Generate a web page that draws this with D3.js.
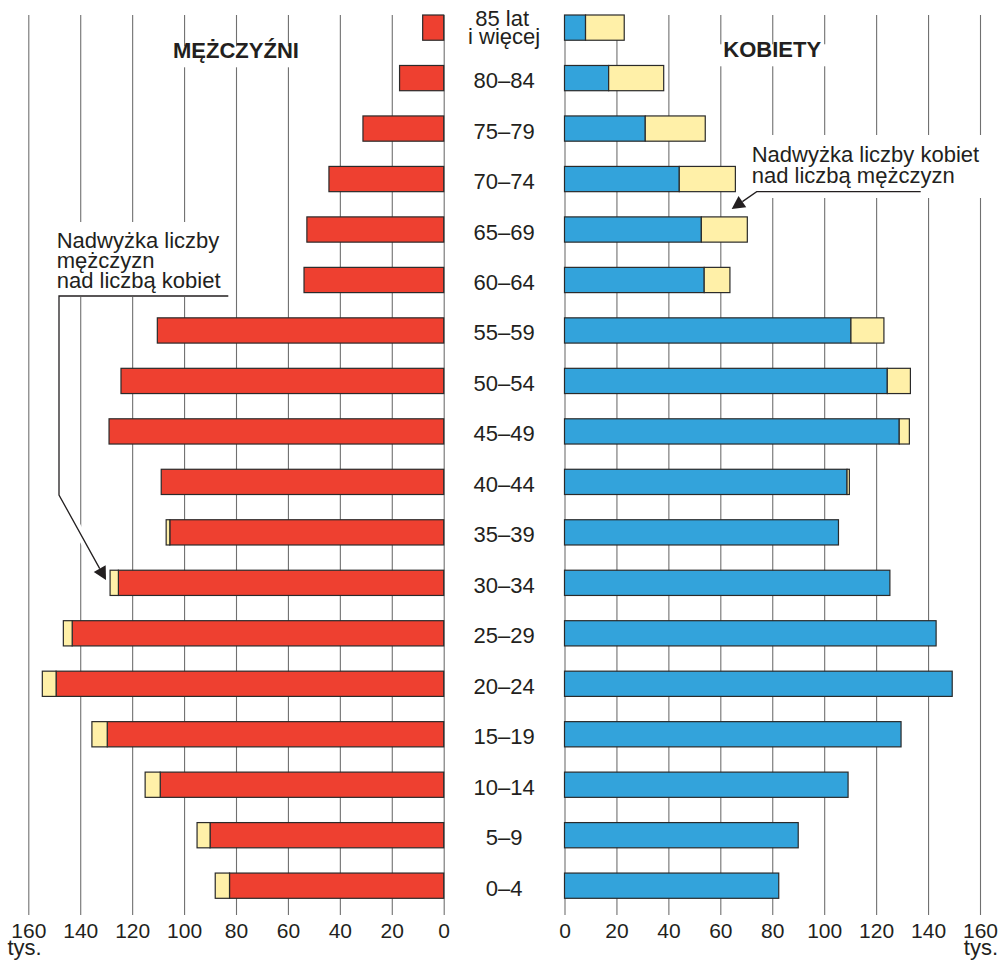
<!DOCTYPE html>
<html><head><meta charset="utf-8">
<script src="https://cdn.jsdelivr.net/npm/d3@7"></script>
<style>
body{margin:0;background:#fff;}
svg text{font-family:"Liberation Sans",Arial,Helvetica,sans-serif;fill:#231f20;}
</style>
</head><body><svg id="c" width="1003" height="961"></svg>
<script>
// ---- data (thousands) ----
const ageGroups = ["0–4","5–9","10–14","15–19","20–24","25–29","30–34","35–39","40–44","45–49","50–54","55–59","60–64","65–69","70–74","75–79","80–84","85 lat\ni więcej"];
const men   = [88.0,95.0,115.0,135.5,154.6,146.5,128.5,106.9,108.8,128.9,124.3,110.3,53.8,52.7,44.2,31.1,17.0,8.1];
const women = [82.5,90.0,109.2,129.6,149.3,143.1,125.3,105.5,109.7,132.8,133.2,123.0,63.7,70.4,65.8,54.2,38.2,23.0];
const tickValues = [0,20,40,60,80,100,120,140,160];
const unitLabel = "tys.";
const titleMen = "MĘŻCZYŹNI";
const titleWomen = "KOBIETY";
const noteMen = ["Nadwyżka liczby","mężczyzn","nad liczbą kobiet"];
const noteWomen = ["Nadwyżka liczby kobiet","nad liczbą mężczyzn"];

// ---- layout ----
const svg = d3.select("#c");
const gridTop = 15, gridBottom = 915;
const xL = d3.scaleLinear().domain([0,160]).range([443.7, 28.3]);
const xR = d3.scaleLinear().domain([0,160]).range([564.5, 980]);
const y = d3.scaleBand().domain(ageGroups.slice().reverse()).range([15, 898.3]).paddingInner(0.5).paddingOuter(0);
const bw = y.bandwidth();
const rows = ageGroups.map((a,i)=>({age:a, m:men[i], w:women[i], c:Math.min(men[i],women[i])}));

const COL = {red:"#ee4030", blue:"#33a3db", yellow:"#fff0a8", stroke:"#2a2a2a", grid:"#707070", ink:"#231f20"};

const gGrid = svg.append("g");
const gBox = svg.append("g");
const gBars = svg.append("g");
const gLead = svg.append("g");
const gText = svg.append("g");

function drawAxis(scale){
  const ax = d3.axisBottom(scale).tickValues(tickValues).tickSizeInner(-(gridBottom-gridTop)).tickSizeOuter(0).tickPadding(8).tickFormat(d3.format("d"));
  const g = gGrid.append("g").attr("transform",`translate(0,${gridBottom})`).call(ax);
  g.select(".domain").remove();
  g.selectAll(".tick line").attr("stroke",COL.grid).attr("stroke-width",1.1);
  g.selectAll(".tick text").attr("font-size",21).attr("font-family",null).style("fill",COL.ink);
  g.attr("font-family",null).attr("font-size",null);
}
drawAxis(xL);
drawAxis(xR);

// unit labels
gText.append("text").attr("x",7.5).attr("y",955).attr("font-size",22).text(unitLabel);
gText.append("text").attr("x",998).attr("y",955).attr("font-size",22).attr("text-anchor","end").text(unitLabel);

// ---- bars ----
const rowG = gBars.selectAll("g.row").data(rows).join("g").attr("class","row");
// men common part
rowG.append("rect").attr("x",d=>xL(d.c)).attr("y",d=>y(d.age)).attr("width",d=>xL(0)-xL(d.c)).attr("height",bw)
  .attr("fill",COL.red).attr("stroke",COL.stroke).attr("stroke-width",1.2);
// men surplus
rowG.filter(d=>d.m>d.w).append("rect").attr("x",d=>xL(d.m)).attr("y",d=>y(d.age)).attr("width",d=>xL(d.c)-xL(d.m)).attr("height",bw)
  .attr("fill",COL.yellow).attr("stroke",COL.stroke).attr("stroke-width",1.2);
// women common
rowG.append("rect").attr("x",xR(0)).attr("y",d=>y(d.age)).attr("width",d=>xR(d.c)-xR(0)).attr("height",bw)
  .attr("fill",COL.blue).attr("stroke",COL.stroke).attr("stroke-width",1.2);
// women surplus
rowG.filter(d=>d.w>d.m).append("rect").attr("x",d=>xR(d.c)).attr("y",d=>y(d.age)).attr("width",d=>xR(d.w)-xR(d.c)).attr("height",bw)
  .attr("fill",COL.yellow).attr("stroke",COL.stroke).attr("stroke-width",1.2);

// ---- age labels ----
const midX = (xL(0)+xR(0))/2;
rows.forEach(d=>{
  const cy = y(d.age)+bw/2;
  const lines = d.age.split("\n");
  const t = gText.append("text").attr("x",midX).attr("text-anchor","middle").attr("font-size",22);
  if(lines.length===1){ t.attr("y",cy+10).text(lines[0]); }
  else {
    t.append("tspan").attr("x",midX-2).attr("y",cy-1.5).text(lines[0]);
    t.append("tspan").attr("x",midX).attr("y",cy+16.8).text(lines[1]);
  }
});

// ---- titles with white knockouts ----
function boxed(textSel, padX, padTop, padBot){
  const b = textSel.node().getBBox();
  gBox.append("rect").attr("x",b.x-padX).attr("y",b.y-padTop).attr("width",b.width+2*padX).attr("height",b.height+padTop+padBot).attr("fill","#fff");
}
const tM = gText.append("text").attr("x",xL(80)).attr("y",58.3).attr("text-anchor","middle").attr("font-size",22).attr("font-weight","bold").text(titleMen);
boxed(tM,14,-8,4);
const tW = gText.append("text").attr("x",xR(80)).attr("y",57.3).attr("text-anchor","middle").attr("font-size",22).attr("font-weight","bold").text(titleWomen);
boxed(tW,14,-7,4);

// ---- annotations ----
const nM = gText.append("text").attr("font-size",22);
noteMen.forEach((s,i)=>nM.append("tspan").attr("x",56.7).attr("y",248.3+i*20).text(s));
gBox.append("rect").attr("x",50).attr("y",222).attr("width",180).attr("height",75).attr("fill","#fff");

const nW = gText.append("text").attr("font-size",22);
noteWomen.forEach((s,i)=>nW.append("tspan").attr("x",751.7).attr("y",161.7+i*21).text(s));
gBox.append("rect").attr("x",745).attr("y",135).attr("width",248).attr("height",63).attr("fill","#fff");

function leader(points, tip){
  const last = points[points.length-1];
  const dx = tip[0]-last[0], dy = tip[1]-last[1];
  const L = Math.hypot(dx,dy), ux = dx/L, uy = dy/L;
  const aLen = 13, aHalf = 6.8;
  const base = [tip[0]-ux*aLen, tip[1]-uy*aLen];
  const pts = points.concat([base]);
  const line = d3.line();
  // white knockout under the diagonal
  gLead.append("path").attr("d",line([last, base])).attr("fill","none").attr("stroke","#fff").attr("stroke-width",9);
  gLead.append("path").attr("d",line(pts)).attr("fill","none").attr("stroke",COL.ink).attr("stroke-width",1.3);
  const p1 = [base[0]-uy*aHalf, base[1]+ux*aHalf];
  const p2 = [base[0]+uy*aHalf, base[1]-ux*aHalf];
  gLead.append("path").attr("d",line([tip,p1,p2])+"Z").attr("fill",COL.ink);
}
// move knockout to be below bars? drawn in gLead which sits above bars but does not overlap them
leader([[228.3,296],[59,296],[59,495]],[106,580]);
leader([[920.7,191.7],[756.7,191.7]],[731.7,209]);
</script></body></html>
